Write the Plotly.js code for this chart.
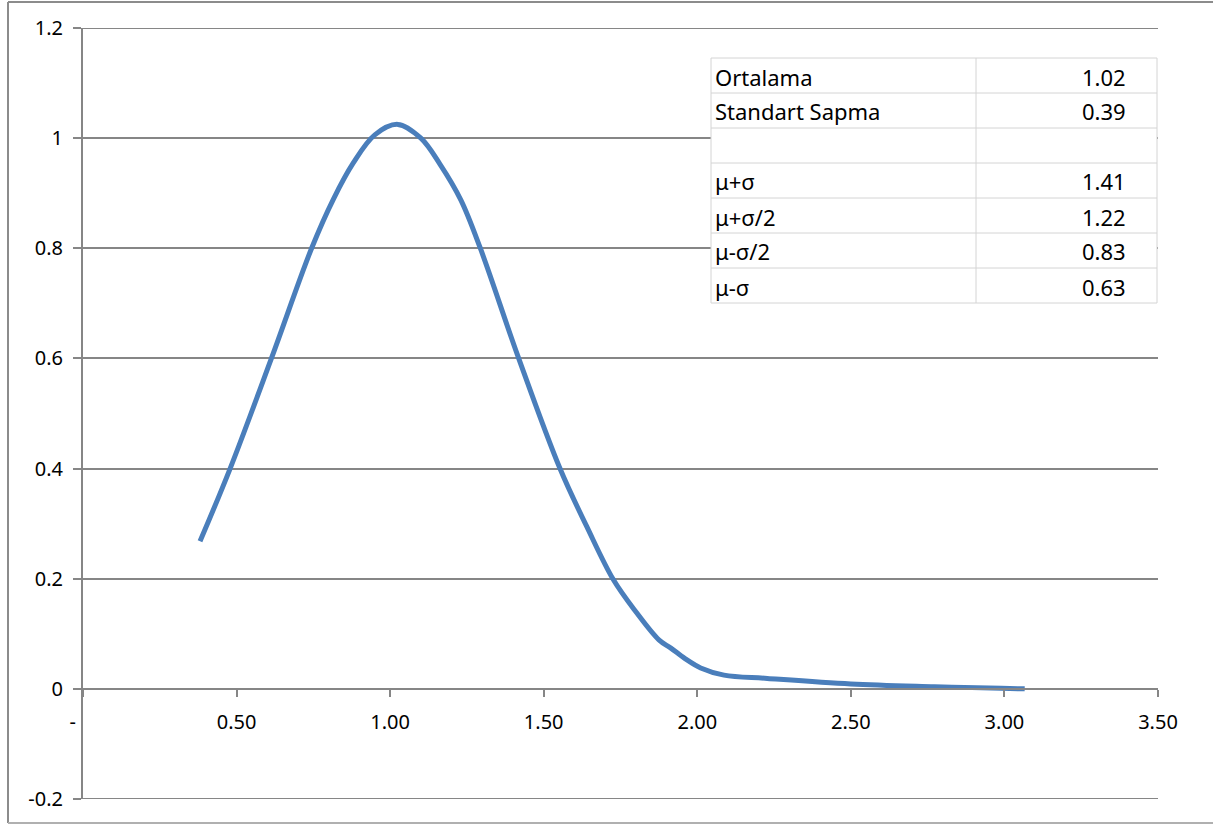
<!DOCTYPE html>
<html>
<head>
<meta charset="utf-8">
<script src="https://cdn.plot.ly/plotly-3.0.1.min.js"></script>
<style>html,body{margin:0;padding:0;background:#fff;}#chart{width:1213px;height:825px;}</style>
</head>
<body>
<div id="chart"></div>
<script>
// Curve data
const xValues = [0.381, 0.479, 0.614, 0.745, 0.815, 0.88, 0.95, 1.025, 1.10, 1.162, 1.23, 1.293, 1.418, 1.553, 1.64, 1.727, 1.80, 1.875, 1.914, 1.96, 2.011, 2.087, 2.228, 2.5, 2.772, 2.99, 3.066];
const yValues = [0.268, 0.400, 0.601, 0.801, 0.889, 0.955, 1.006, 1.025, 1.000, 0.953, 0.888, 0.801, 0.601, 0.400, 0.295, 0.198, 0.140, 0.089, 0.074, 0.055, 0.038, 0.025, 0.019, 0.009, 0.004, 0.001, 0.000];

// Axis ticks
const xTickVals = [0, 0.5, 1.0, 1.5, 2.0, 2.5, 3.0, 3.5];
const xTickText = ['-\u00a0\u00a0\u00a0\u00a0', '0.50', '1.00', '1.50', '2.00', '2.50', '3.00', '3.50'];
const yTickVals = [-0.2, 0, 0.2, 0.4, 0.6, 0.8, 1.0, 1.2];
const yTickText = ['-0.2', '0', '0.2', '0.4', '0.6', '0.8', '1', '1.2'];

// Table
const tableLabels = ['Ortalama', 'Standart Sapma', '', 'μ+σ', 'μ+σ/2', 'μ-σ/2', 'μ-σ'];
const tableValues = ['1.02', '0.39', '', '1.41', '1.22', '0.83', '0.63'];

// layout geometry (pixels)
const W = 1213, H = 825;
const M = {l: 83, r: 55, t: 28, b: 26};
const plotW = W - M.l - M.r, plotH = H - M.t - M.b;
const px = x => (x - M.l) / plotW;
const py = y => (H - M.b - y) / plotH;

const gray = '#868686';
const fontFam = '"Noto Sans", "Open Sans", sans-serif';

const shapes = [];
const annotations = [];

// outer border (left, top, bottom)
const bL = px(8), bR = px(1300), bT = py(2), bB = py(823);
shapes.push({type: 'line', xref: 'paper', yref: 'paper', x0: bL, x1: bL, y0: bB, y1: bT, line: {color: '#8c8c8c', width: 2}, layer: 'below'});
shapes.push({type: 'line', xref: 'paper', yref: 'paper', x0: bL, x1: bR, y0: bT, y1: bT, line: {color: '#8c8c8c', width: 2}, layer: 'below'});
shapes.push({type: 'line', xref: 'paper', yref: 'paper', x0: bL, x1: bR, y0: bB, y1: bB, line: {color: '#b0b0b0', width: 2}, layer: 'below'});

// gridlines at the ends of the value axis (Plotly omits them at the range edges)
[yTickVals[0], yTickVals[yTickVals.length - 1]].forEach(v => {
  shapes.push({type: 'line', xref: 'paper', yref: 'y', x0: 0, x1: 1, y0: v, y1: v,
    line: {color: gray, width: 2}, layer: 'below'});
});

// table
const tL = 711, tR = 1157, tT = 58, rowH = 35, colDiv = 976;
const tB = tT + rowH * tableLabels.length;
shapes.push({type: 'rect', xref: 'paper', yref: 'paper', x0: px(tL), x1: px(tR), y0: py(tT), y1: py(tB),
  line: {color: '#d4d4d4', width: 1}, fillcolor: '#ffffff', layer: 'above'});
for (let i = 1; i < tableLabels.length; i++) {
  shapes.push({type: 'line', xref: 'paper', yref: 'paper', x0: px(tL), x1: px(tR), y0: py(tT + rowH * i), y1: py(tT + rowH * i),
    line: {color: '#d4d4d4', width: 1}, layer: 'above'});
}
shapes.push({type: 'line', xref: 'paper', yref: 'paper', x0: px(colDiv), x1: px(colDiv), y0: py(tT), y1: py(tB),
  line: {color: '#d4d4d4', width: 1}, layer: 'above'});
tableLabels.forEach((lab, i) => {
  const yc = py(tT + rowH * i + rowH / 2 + 1);
  if (lab) annotations.push({xref: 'paper', yref: 'paper', x: px(713), y: yc, xanchor: 'left', yanchor: 'middle',
    text: lab, showarrow: false, font: {family: fontFam, size: 22, color: '#000'}});
  if (tableValues[i]) annotations.push({xref: 'paper', yref: 'paper', x: px(1128), y: yc, xanchor: 'right', yanchor: 'middle',
    text: tableValues[i], showarrow: false, font: {family: fontFam, size: 22, color: '#000'}});
});

const trace = {
  x: xValues, y: yValues, type: 'scatter', mode: 'lines',
  line: {color: '#4a7ebb', width: 5, shape: 'spline', smoothing: 1},
  hoverinfo: 'x+y'
};

const layout = {
  width: W, height: H,
  margin: M,
  paper_bgcolor: '#ffffff', plot_bgcolor: '#ffffff',
  showlegend: false,
  font: {family: fontFam, size: 20, color: '#000'},
  xaxis: {
    range: [0, 3.5], anchor: 'free', position: (0 - (-0.2)) / 1.4,
    showgrid: false, zeroline: false,
    showline: true, linecolor: gray, linewidth: 2,
    ticks: 'outside', ticklen: 7, tickwidth: 2, tickcolor: gray,
    tickmode: 'array', tickvals: xTickVals, ticktext: xTickText,
    tickfont: {family: fontFam, size: 20, color: '#000'},
    ticklabelstandoff: 8
  },
  yaxis: {
    range: [-0.2, 1.2],
    showgrid: true, gridcolor: gray, gridwidth: 2,
    zeroline: false,
    showline: true, linecolor: gray, linewidth: 2,
    ticks: 'outside', ticklen: 8, tickwidth: 2, tickcolor: gray,
    tickmode: 'array', tickvals: yTickVals, ticktext: yTickText,
    tickfont: {family: fontFam, size: 20, color: '#000'},
    ticklabelstandoff: 6
  },
  shapes: shapes,
  annotations: annotations
};

Plotly.newPlot('chart', [trace], layout, {displayModeBar: false, staticPlot: true});
</script>
</body>
</html>
